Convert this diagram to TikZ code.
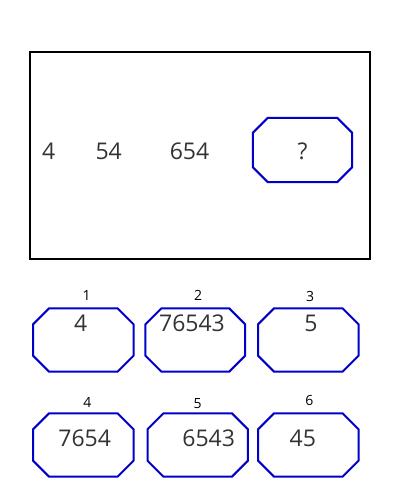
\documentclass[tikz,border=0pt]{standalone}
\usepackage{fontspec}
\setmainfont{Open Sans}
\definecolor{octblue}{RGB}{0,0,200}
\definecolor{digit}{RGB}{51,51,51}
\tikzset{
  octbox/.style={rectangle, inner sep=0pt, minimum width=#1, minimum height=63pt},
  octline/.style={draw=octblue, line width=2pt, line join=miter},
  num/.style={font=\fontsize{23}{26}\selectfont, text=digit, inner sep=0pt, anchor=base},
  lab/.style={font=\fontsize{14}{16}\selectfont, text=black, inner sep=0pt, anchor=base},
}
\newcommand{\octo}[2]{%
  \draw[octline] ([xshift=#2]#1.north west) -- ([xshift=-#2]#1.north east)
    -- ([yshift=-#2]#1.north east) -- ([yshift=#2]#1.south east)
    -- ([xshift=-#2]#1.south east) -- ([xshift=#2]#1.south west)
    -- ([yshift=#2]#1.south west) -- ([yshift=-#2]#1.north west) -- cycle;}
\begin{document}
\begin{tikzpicture}[x=1pt,y=-1pt]
\useasboundingbox (0,0) rectangle (400,500);
% frame
\node[draw=black, line width=2.2pt, rectangle, inner sep=0pt, minimum width=340pt, minimum height=207pt] (frame) at (200,155.5) {};
% sequence
\node[num] (s1) at (48.8,159.3) {4};
\node[num] (s2) at (108.7,159.3) {54};
\node[num] (s3) at (189.5,159.3) {654};
\node[octbox=99pt, minimum height=64pt] (q) at (302.5,150) {};
\octo{q}{15pt}
\node[num] (qt) at (302.5,159.3) {?};
% answer boxes
\node[octbox=100pt] (b1) at (83.3,340) {};
\node[octbox=99.3pt] (b2) at (195.3,340) {};
\node[octbox=100pt] (b3) at (308.3,340) {};
\node[octbox=100pt] (b4) at (83.3,445) {};
\node[octbox=100pt] (b5) at (197.7,445) {};
\node[octbox=100pt] (b6) at (308.3,445) {};
\foreach \b in {b1,b2,b3,b4,b5,b6}{\octo{\b}{16pt}}
% texts in boxes
\node[num] (t1) at (80.8,331.7) {4};
\node[num] (t2) at (192,331.7) {76543};
\node[num] (t3) at (311,331.7) {5};
\node[num] (t4) at (84.7,446.7) {7654};
\node[num] (t5) at (208.7,446.7) {6543};
\node[num] (t6) at (302.8,446.7) {45};
% labels
\node[lab] (l1) at (86.7,300.5) {1};
\node[lab] (l2) at (198,300.5) {2};
\node[lab] (l3) at (310,301.5) {3};
\node[lab] (l4) at (87.3,407.5) {4};
\node[lab] (l5) at (197.7,408) {5};
\node[lab] (l6) at (309.3,405) {6};
\end{tikzpicture}
\end{document}
